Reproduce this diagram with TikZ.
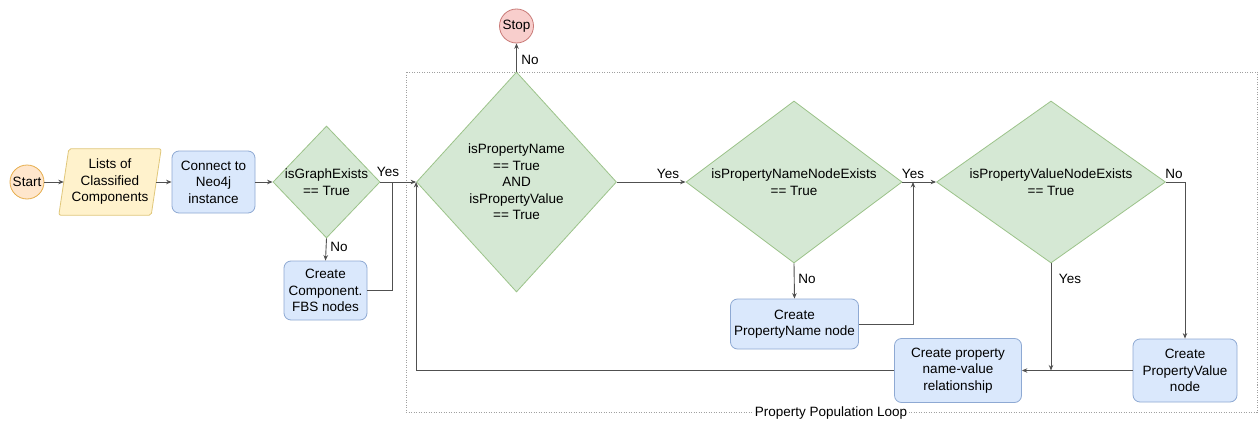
\documentclass[tikz,border=0pt]{standalone}
\usepackage{fontspec}
\setmainfont{Liberation Sans}
\usetikzlibrary{shapes.geometric,arrows.meta}
\definecolor{gfill}{HTML}{D5E8D4}\definecolor{gline}{HTML}{9CC38A}
\definecolor{bfill}{HTML}{DAE8FC}\definecolor{bline}{HTML}{8EA9D3}
\definecolor{yfill}{HTML}{FFF2CC}\definecolor{yline}{HTML}{E0C77A}
\definecolor{ofill}{HTML}{FFE6CC}\definecolor{oline}{HTML}{E6AE4D}
\definecolor{rfill}{HTML}{F8CECC}\definecolor{rline}{HTML}{C97A77}
\definecolor{conn}{HTML}{505050}
\definecolor{boxline}{HTML}{A0A0A0}
\begin{document}
\begin{tikzpicture}[x=1pt,y=-1pt,
 every node/.style={font=\fontsize{13.5}{16.5}\selectfont, align=center, inner sep=0pt, text=black},
 proc/.style={draw=bline, fill=bfill, rounded corners=7pt, line width=0.8pt},
 dec/.style={diamond, draw=gline, fill=gfill, line width=0.8pt},
 term/.style={circle, line width=0.8pt, minimum size=34pt},
 arr/.style={draw=conn, line width=0.9pt, -{Stealth[length=5.5pt,width=4.5pt]}},
 ln/.style={draw=conn, line width=0.9pt},
 lbl/.style={font=\fontsize{13.5}{16.5}\selectfont}
]
\useasboundingbox[fill=white] (0,0) rectangle (1259,423);

% container
\draw[boxline, line width=0.8pt, dash pattern=on 1pt off 1.5pt] (406,72) rectangle (1257,412);

% nodes
\node[term, draw=oline, fill=ofill] (start) at (27,182) {Start};
\node[minimum width=92pt, minimum height=66pt] (lists) at (110,182) {};
\draw[draw=yline, fill=yfill, line width=0.8pt, rounded corners=2pt]
  ([xshift=5pt]lists.north west) -- ([xshift=5pt]lists.north east) --
  ([xshift=-5pt]lists.south east) -- ([xshift=-5pt]lists.south west) -- cycle;
\node at (lists) {Lists of\\Classified\\Components};
\node[proc, minimum width=83pt, minimum height=62pt] (conn) at (213.5,182) {Connect to\\Neo4j\\instance};
\node[dec, minimum width=107pt, minimum height=112pt] (gexists) at (326.5,182) {};
\node at (gexists) {isGraphExists\\== True};
\node[proc, minimum width=83pt, minimum height=59pt] (comp) at (325.5,290.5) {Create\\Component.\\FBS nodes};

\node[dec, minimum width=200pt, minimum height=220pt] (bigd) at (516.5,182) {};
\node at (bigd) {isPropertyName\\== True\\AND\\isPropertyValue\\== True};
\node[term, draw=rline, fill=rfill] (stop) at (516.5,26) {Stop};

\node[dec, minimum width=216pt, minimum height=162pt] (pnx) at (794,182) {};
\node at (pnx) {isPropertyNameNodeExists\\== True};
\node[proc, minimum width=128pt, minimum height=50pt] (cpn) at (794.5,324) {Create\\PropertyName node};

\node[dec, minimum width=229pt, minimum height=162pt] (pvx) at (1051,182) {};
\node at (pvx) {isPropertyValueNodeExists\\== True};
\node[proc, minimum width=104pt, minimum height=63pt] (cpv) at (1185,370.5) {Create\\PropertyValue\\node};
\node[proc, minimum width=127pt, minimum height=64pt] (rel) at (958,370.5) {Create property\\name-value\\relationship};

\node[fill=white, inner sep=2pt] (looplbl) at (831,413) {Property Population Loop};

% junction coordinates
\coordinate (j1) at (392,182);
\coordinate (j2) at (913,182);
\coordinate (j3) at (1051,370.5);

% connectors
\draw[arr] (start) -- (lists.west);
\draw[arr] (lists.east) -- (conn.west);
\draw[arr] (conn.east) -- (gexists.west);
\draw[arr] (gexists.east) -- (bigd.west);
\draw[arr] (gexists.south) -- (comp.north);
\draw[ln] (comp.east) -| (j1);
\draw[arr] (bigd.north) -- (stop.south);
\draw[arr] (bigd.east) -- (pnx.west);
\draw[arr] (pnx.south) -- (cpn.north);
\draw[arr] (cpn.east) -| (j2);
\draw[arr] (pnx.east) -- (pvx.west);
\draw[arr] (pvx.east) -| (cpv.north);
\draw[arr] (pvx.south) -- (j3);
\draw[arr] (cpv.west) -- (rel.east);
\draw[arr] (rel.west) -| (bigd.west);

% labels
\node[lbl] (l1) at (388,172) {Yes};
\node[lbl] (l2) at (339,247) {No};
\node[lbl] (l3) at (530,60) {No};
\node[lbl] (l4) at (668,174) {Yes};
\node[lbl] (l5) at (913,174) {Yes};
\node[lbl] (l6) at (1174,174) {No};
\node[lbl] (l7) at (807,279) {No};
\node[lbl] (l8) at (1070,279) {Yes};
\end{tikzpicture}
\end{document}
